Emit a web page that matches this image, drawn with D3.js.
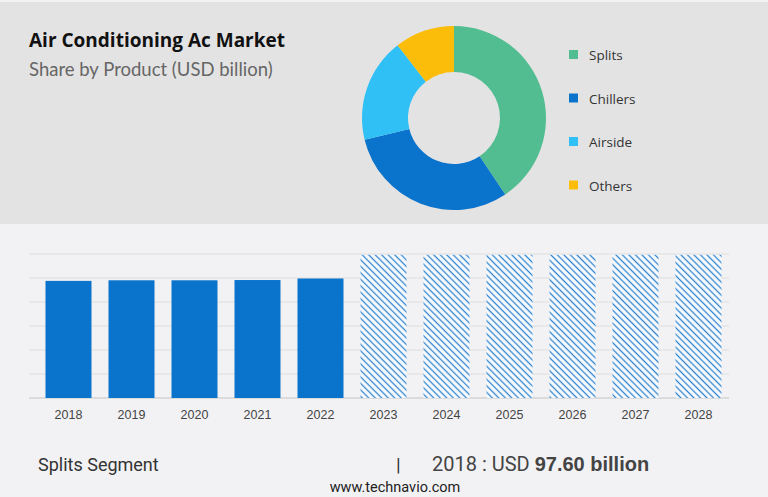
<!DOCTYPE html>
<html>
<head>
<meta charset="utf-8">
<script src="https://cdn.jsdelivr.net/npm/d3@7"></script>
<style>
  html, body { margin: 0; padding: 0; background: #f2f2f4; }
  svg { display: block; }
</style>
</head>
<body>
<div id="chart"></div>
<script>
// donut data (share by product)
var products = ['Splits', 'Chillers', 'Airside', 'Others'];
var shares = [40.6, 30.6, 18.3, 10.5];
var productColors = ['#52bd91', '#0a74cc', '#30c0f5', '#fbbd0a'];

// bar data (USD billion)
var years = ['2018', '2019', '2020', '2021', '2022', '2023', '2024', '2025', '2026', '2027', '2028'];
var values = [97.6, 98.1, 98.1, 98.3, 99.6, 119.3, 119.3, 119.3, 119.3, 119.3, 119.3];
var forecastFrom = '2023';
var gridTicks = [0, 20, 40, 60, 80, 100, 120];

var W = 768, H = 497;

var svg = d3.select('#chart').append('svg')
    .attr('width', W).attr('height', H);

// hatch pattern for forecast bars ("\" direction)
var defs = svg.append('defs');
var pat = defs.append('pattern')
    .attr('id', 'hatch')
    .attr('patternUnits', 'userSpaceOnUse')
    .attr('width', 4.6).attr('height', 4.6)
    .attr('patternTransform', 'rotate(45)');
pat.append('rect').attr('width', 4.6).attr('height', 4.6).attr('fill', '#fbfcfe');
pat.append('line')
    .attr('x1', 0).attr('y1', 2.3).attr('x2', 4.6).attr('y2', 2.3)
    .attr('stroke', '#2f84cf').attr('stroke-width', 1.3);

// top panel
svg.append('rect')
    .attr('x', 0).attr('y', 2).attr('width', W).attr('height', 222)
    .attr('fill', '#e3e3e3');

svg.append('text')
    .attr('x', 29).attr('y', 47)
    .attr('font-family', 'Open Sans, sans-serif')
    .attr('font-weight', 'bold')
    .attr('font-size', 19)
    .attr('fill', '#111')
    .text('Air Conditioning Ac Market');

svg.append('text')
    .attr('x', 29).attr('y', 76)
    .attr('font-family', 'Lato, sans-serif')
    .attr('font-size', 18.5)
    .attr('fill', '#666')
    .text('Share by Product (USD billion)');

// donut
var cx = 454, cy = 118;
var pie = d3.pie().sort(null).value(function(d) { return d; });
var arc = d3.arc().innerRadius(46).outerRadius(92);

var donut = svg.append('g').attr('transform', 'translate(' + cx + ',' + cy + ')');
donut.selectAll('path')
    .data(pie(shares))
    .enter().append('path')
    .attr('d', arc)
    .attr('fill', function(d, i) { return productColors[i]; });

// legend
var legend = svg.append('g').attr('transform', 'translate(569,55)');
var items = legend.selectAll('g')
    .data(products)
    .enter().append('g')
    .attr('transform', function(d, i) { return 'translate(0,' + (i * 43.5) + ')'; });
items.append('rect')
    .attr('x', 0).attr('y', -5).attr('width', 9).attr('height', 9)
    .attr('fill', function(d, i) { return productColors[i]; });
items.append('text')
    .attr('x', 20).attr('y', 5)
    .attr('font-family', 'Open Sans, sans-serif')
    .attr('font-size', 13.5)
    .attr('fill', '#333')
    .text(function(d) { return d; });

// bar chart
var plotLeft = 29, plotRight = 729, plotTop = 254, plotBottom = 398;

var x = d3.scaleBand()
    .domain(years)
    .range([37, 730])
    .paddingInner(0.27)
    .paddingOuter(0.135);

var y = d3.scaleLinear()
    .domain([0, 120])
    .range([plotBottom, plotTop]);

svg.append('g').selectAll('line')
    .data(gridTicks)
    .enter().append('line')
    .attr('x1', plotLeft).attr('x2', plotRight)
    .attr('y1', function(d) { return y(d); })
    .attr('y2', function(d) { return y(d); })
    .attr('stroke', function(d) { return d === 0 ? '#c4c4c4' : '#dedede'; })
    .attr('stroke-width', 1);

svg.append('g').selectAll('rect')
    .data(years)
    .enter().append('rect')
    .attr('x', function(d) { return x(d); })
    .attr('width', x.bandwidth())
    .attr('y', function(d, i) { return y(values[i]); })
    .attr('height', function(d, i) { return plotBottom - y(values[i]); })
    .attr('fill', function(d) { return +d >= +forecastFrom ? 'url(#hatch)' : '#0a74cc'; });

var xAxis = svg.append('g')
    .attr('transform', 'translate(0,' + plotBottom + ')')
    .call(d3.axisBottom(x).tickSize(0).tickPadding(12));
xAxis.select('.domain').remove();
xAxis.selectAll('text')
    .attr('font-family', 'Liberation Sans, Arial, sans-serif')
    .attr('font-size', 12.5)
    .attr('fill', '#444');

// footer
svg.append('text')
    .attr('x', 38).attr('y', 471)
    .attr('font-family', 'Liberation Sans Narrow, Roboto, sans-serif')
    .attr('font-size', 18)
    .attr('fill', '#333')
    .text('Splits Segment');

svg.append('text')
    .attr('x', 396).attr('y', 471)
    .attr('font-family', 'Liberation Sans Narrow, Roboto, sans-serif')
    .attr('font-size', 19)
    .attr('fill', '#333')
    .text('|');

var foot = svg.append('text')
    .attr('x', 432).attr('y', 471)
    .attr('font-family', 'Liberation Sans Narrow, Roboto, sans-serif')
    .attr('font-size', 20)
    .attr('fill', '#444');
foot.append('tspan').text('2018 : USD ');
foot.append('tspan').attr('font-weight', 'bold')
    .attr('font-family', 'Liberation Sans, Roboto, sans-serif')
    .attr('font-size', 20)
    .text('97.60 billion');

svg.append('text')
    .attr('x', 395).attr('y', 492)
    .attr('text-anchor', 'middle')
    .attr('font-family', 'Liberation Sans Narrow, Roboto, sans-serif')
    .attr('font-size', 14.5)
    .attr('fill', '#222')
    .text('www.technavio.com');
</script>
</body>
</html>
